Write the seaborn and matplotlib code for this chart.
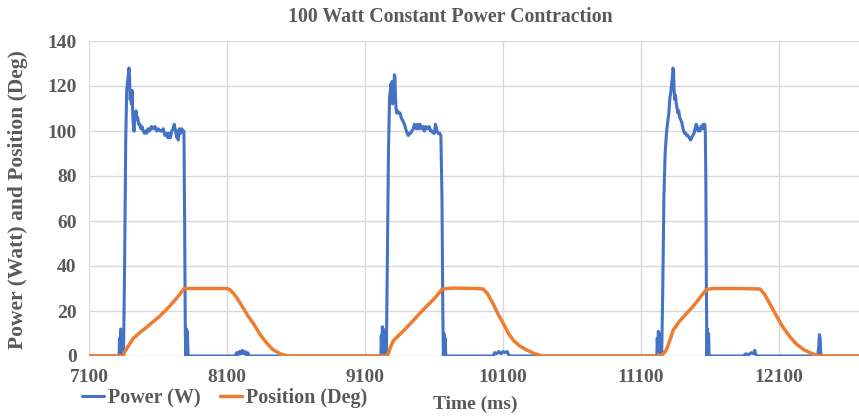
import matplotlib
matplotlib.use("Agg")
import matplotlib.pyplot as plt
import seaborn as sns
import pandas as pd

# Power trace (W) over time (ms)
power_time = [
    7100, 7300, 7318, 7322, 7326, 7330, 7334, 7338, 7343, 7350,
    7358, 7366, 7373, 7380, 7386, 7390, 7394, 7398, 7402, 7407,
    7412, 7418, 7424, 7428, 7431, 7436, 7441, 7447, 7453, 7460,
    7468, 7476, 7484, 7493, 7502, 7510, 7518, 7528, 7540, 7552,
    7566, 7578, 7590, 7602, 7614, 7626, 7638, 7650, 7663, 7672,
    7680, 7690, 7700, 7710, 7718, 7723, 7730, 7737, 7742, 7747,
    7755, 7765, 7772, 7780, 7788, 7793, 7798, 7802, 7806, 7810,
    7813, 7818, 8160, 8170, 8180, 8190, 8200, 8210, 8220, 8230,
    8240, 8250, 8262,
    9215, 9218, 9222, 9226, 9230, 9234, 9240, 9255, 9262, 9270,
    9278, 9284, 9288, 9292, 9297, 9300, 9305, 9309, 9313, 9317,
    9321, 9325, 9329, 9335, 9342, 9354, 9362, 9370, 9378, 9386,
    9395, 9405, 9414, 9422, 9430, 9440, 9450, 9458, 9465, 9472,
    9480, 9490, 9498, 9510, 9520, 9530, 9540, 9547, 9555, 9565,
    9575, 9585, 9597, 9604, 9610, 9615, 9622, 9630, 9642, 9650,
    9658, 9664, 9668, 9672, 9676, 9680, 9686, 10030, 10040, 10055,
    10070, 10085, 10100, 10115, 10130, 10145,
    11215, 11218, 11222, 11226, 11231, 11236, 11242, 11250, 11258, 11266,
    11275, 11286, 11294, 11302, 11310, 11316, 11322, 11328, 11332, 11336,
    11340, 11345, 11350, 11356, 11362, 11368, 11374, 11380, 11388, 11395,
    11405, 11415, 11425, 11431, 11440, 11450, 11460, 11467, 11475, 11485,
    11492, 11500, 11507, 11514, 11520, 11527, 11535, 11542, 11550, 11556,
    11562, 11566, 11570, 11574, 11578, 11582, 11586, 11590, 11594, 11840,
    11860, 11880, 11900, 11915, 11925, 11935, 12380, 12388, 12393, 12398,
    12403, 12408, 12700,
]
power_watt = [
    0, 0, 0, 8, 1, 12, 2, 11, 0, 0,
    40, 95, 118, 122, 125, 128, 124, 114, 116, 112,
    118, 106, 100, 100, 108, 106, 109, 105, 106, 103,
    103, 101, 102, 100, 99, 100, 99, 101, 100, 102,
    101, 102, 100, 101, 100, 100, 101, 98, 99, 97,
    99, 97, 100, 101, 103, 101, 99, 97, 100, 96,
    101, 99, 101, 100, 100, 60, 10, 0, 12, 3,
    11, 0, 0, 1.5, 0.5, 2, 1, 2.5, 1, 2,
    0.5, 1.5, 0,
    0, 9, 2, 13, 3, 12, 0, 0, 40, 90,
    115, 118, 121, 119, 122, 112, 114, 120, 125, 124,
    115, 110, 108, 109, 108, 108, 106, 105, 104, 103,
    101, 99, 98, 99, 99, 100, 101, 103, 102, 101,
    103, 101, 103, 101, 102, 100, 102, 101, 101, 102,
    100, 100, 99, 99, 103, 102, 100, 99, 99, 98,
    70, 20, 0, 10, 2, 8, 0, 0, 1.5, 1,
    2, 1, 2, 1.5, 2, 0,
    0, 8, 2, 11, 3, 10, 0, 0, 30, 70,
    90, 100, 104, 108, 115, 117, 121, 124, 128, 127,
    118, 114, 116, 112, 110, 108, 109, 106, 105, 104,
    101, 99, 99, 98, 98, 97, 96, 97, 98, 99,
    101, 103, 102, 100, 101, 100, 102, 101, 103, 101,
    103, 100, 80, 30, 0, 12, 3, 10, 0, 0,
    1, 0.5, 1.5, 1, 2.5, 0, 0, 4, 9.5, 8,
    1, 0, 0,
]

# Joint position (Deg) over time (ms)
position_time = [
    7100, 7345, 7360, 7385, 7421, 7470, 7518, 7566, 7614, 7650,
    7687, 7725, 7759, 7790, 7820, 8000, 8098, 8120, 8145, 8170,
    8200, 8250, 8291, 8340, 8387, 8430, 8484, 8530, 8560,
    9255, 9269, 9285, 9305, 9350, 9402, 9450, 9498, 9545, 9595,
    9630, 9656, 9692, 9750, 9900, 9957, 9990, 10030, 10065, 10102,
    10140, 10175, 10220, 10271, 10330, 10392,
    11240, 11250, 11270, 11286, 11310, 11334, 11380, 11431, 11470, 11503,
    11540, 11576, 11624, 11800, 11962, 11995, 12035, 12085, 12131, 12180,
    12228, 12280, 12324, 12360, 12397, 12700,
]
position_deg = [
    0, 0, 2, 4.5, 7.8, 10.5, 12.8, 15.3, 17.8, 20,
    22.3, 25, 27.5, 30, 30, 30, 30, 29.5, 28, 26,
    23, 18, 14.5, 9.5, 5.8, 3, 1, 0.2, 0,
    0, 1, 4, 6.7, 9.5, 12.6, 15.8, 19, 22, 25,
    27.5, 29.6, 30, 30.2, 30, 29.8, 27.5, 23, 18.5, 14.5,
    10, 7, 4.5, 2.7, 1, 0,
    0, 0.5, 1.5, 3, 7, 11.6, 15.5, 19, 21.5, 24,
    27, 29.6, 30, 30, 29.8, 27.5, 23, 17.5, 12.6, 8.5,
    5.2, 2.8, 1.5, 0.6, 0, 0,
]

x_ticks = [7100, 8100, 9100, 10100, 11100, 12100]
y_ticks = [0, 20, 40, 60, 80, 100, 120, 140]

power_df = pd.DataFrame({"Time": power_time, "Value": power_watt})
position_df = pd.DataFrame({"Time": position_time, "Value": position_deg})

sns.set_theme(style="white")
serif = ["Liberation Serif", "DejaVu Serif"]
plt.rcParams["font.family"] = serif
text_color = "#595959"

fig = plt.figure(figsize=(8.59, 4.18), dpi=100)
ax = fig.add_axes([89 / 859, 1 - 356 / 418, 1 - 89 / 859, (356 - 41) / 418])

sns.lineplot(data=power_df, x="Time", y="Value", ax=ax, color="#4472C4",
             linewidth=2.2, estimator=None, label="Power (W)")
sns.lineplot(data=position_df, x="Time", y="Value", ax=ax, color="#ED7D31",
             linewidth=2.5, estimator=None, label="Position (Deg)")

ax.set_xlim(7100, 12680)
ax.set_ylim(0, 140)
ax.set_xticks(x_ticks)
ax.set_yticks(y_ticks)
ax.grid(True, color="#D9D9D9", linewidth=1.0)
ax.set_axisbelow(True)
for s in ax.spines.values():
    s.set_visible(False)
ax.tick_params(axis="both", length=0, labelsize=14, labelcolor=text_color, pad=9)
for lab in ax.get_xticklabels() + ax.get_yticklabels():
    lab.set_fontweight("bold")
ax.set_xlabel("")
ax.set_ylabel("")

handles, labels = ax.get_legend_handles_labels()
ax.get_legend().remove()
fig.legend(handles, labels, loc="center left", bbox_to_anchor=(82 / 859, 1 - 398 / 418),
           ncol=2, frameon=False, handlelength=1.1, handletextpad=0.2,
           columnspacing=0.95, prop={"family": serif, "weight": "bold", "size": 14.5},
           labelcolor=text_color, borderaxespad=0, borderpad=0)

fig.text(450 / 859, 1 - 17 / 418, "100 Watt Constant Power Contraction",
         ha="center", va="center", fontsize=14.3, fontweight="bold", color=text_color)
fig.text(475 / 859, 1 - 404 / 418, "Time (ms)", ha="center", va="center",
         fontsize=14, fontweight="bold", color=text_color)
fig.text(18 / 859, 1 - 200 / 418, "Power (Watt) and Position (Deg)", ha="center",
         va="center", rotation=90, fontsize=15.5, fontweight="bold", color=text_color)

fig.savefig("out.png", dpi=100)
